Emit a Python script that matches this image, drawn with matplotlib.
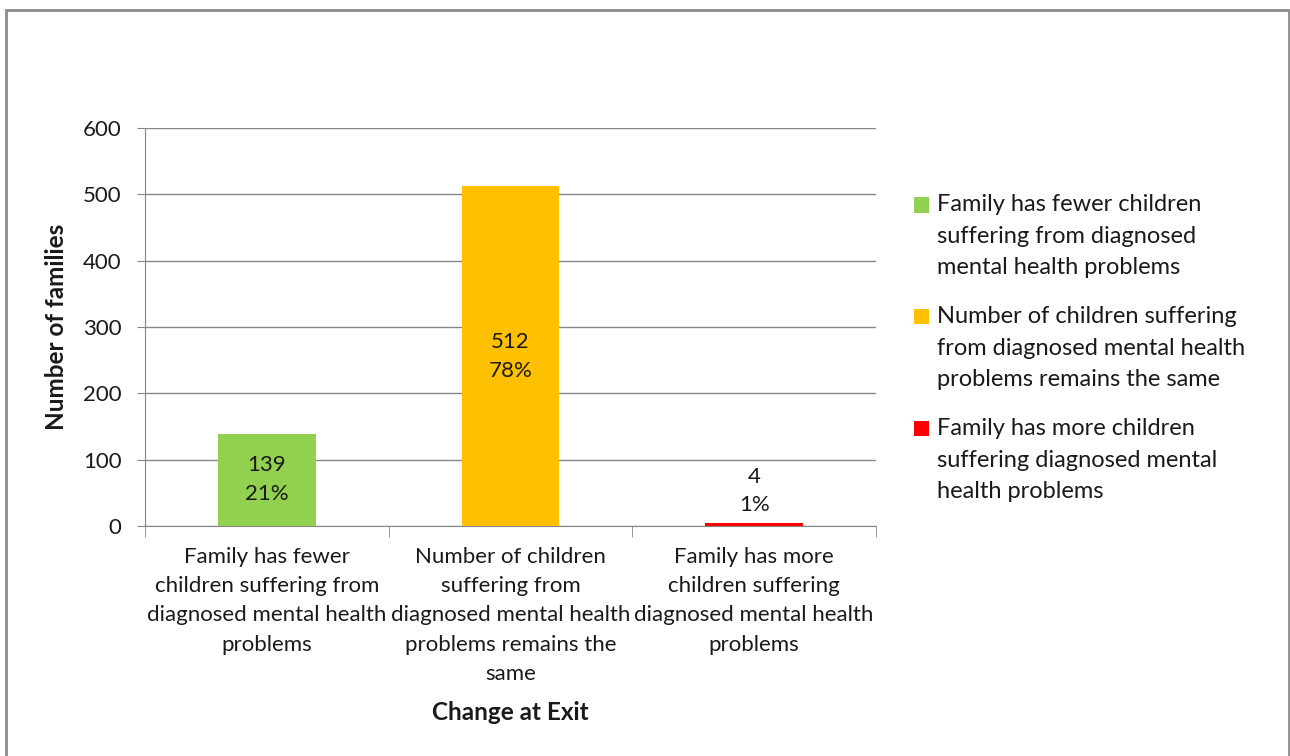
import matplotlib
matplotlib.use("Agg")
import matplotlib.pyplot as plt
from matplotlib.patches import Rectangle

# Data
categories = [
    "Family has fewer\nchildren suffering from\ndiagnosed mental health\nproblems",
    "Number of children\nsuffering from\ndiagnosed mental health\nproblems remains the\nsame",
    "Family has more\nchildren suffering\ndiagnosed mental health\nproblems",
]
legend_labels = [
    "Family has fewer children\nsuffering from diagnosed\nmental health problems",
    "Number of children suffering\nfrom diagnosed mental health\nproblems remains the same",
    "Family has more children\nsuffering diagnosed mental\nhealth problems",
]
values = [139, 512, 4]
percents = ["21%", "78%", "1%"]
colors = ["#92D050", "#FFC000", "#FF0000"]

plt.rcParams["font.family"] = ["Lato", "DejaVu Sans"]
grid_col = "#868686"
txt_col = "#1a1a1a"
fs = 16
W, H = 1290, 756

fig = plt.figure(figsize=(12.9, 7.56), dpi=100)
ax = fig.add_axes([145 / W, 1 - 526 / H, 731 / W, 398 / H])

x = list(range(len(values)))
ax.bar(x, values, width=0.4, color=colors, zorder=3)

for xi, v, p in zip(x, values, percents):
    if v > 60:
        ax.text(xi, v / 2, f"{v}\n{p}", ha="center", va="center",
                fontsize=fs, color=txt_col, linespacing=1.55, zorder=4)
    else:
        ax.text(xi, v + 12, f"{v}\n{p}", ha="center", va="bottom",
                fontsize=fs, color=txt_col, linespacing=1.55, zorder=4)

ax.set_xlim(-0.5, 2.5)
ax.set_ylim(0, 600)
ax.set_yticks(range(0, 601, 100))
ax.yaxis.grid(True, color=grid_col, linewidth=1, zorder=0)
ax.set_xticks(x)
ax.set_xticklabels(categories, fontsize=fs, color=txt_col, linespacing=1.58)
ax.set_xticks([-0.5, 0.5, 1.5, 2.5], minor=True)
ax.tick_params(axis="x", which="major", length=0, pad=15)
ax.tick_params(axis="x", which="minor", length=8, color=grid_col)
ax.tick_params(axis="y", length=6, color=grid_col, labelsize=fs,
               labelcolor=txt_col, pad=11)

for s in ["top", "right"]:
    ax.spines[s].set_visible(False)
for s in ["left", "bottom"]:
    ax.spines[s].set_color(grid_col)

ax.set_ylabel("Number of families", fontsize=17.5, fontweight="bold",
              color=txt_col, va="center")
ax.yaxis.set_label_coords((57 - 145) / 731, 0.5)
ax.set_xlabel("Change at Exit", fontsize=17.5, fontweight="bold",
              color=txt_col, va="center")
ax.xaxis.set_label_coords(0.5, (526 - 712) / 398)

# legend drawn by hand so the swatch sits on the first line of each entry
leg_y = [205, 317, 429]
for lab, c, ly in zip(legend_labels, colors, leg_y):
    fig.patches.append(Rectangle((914 / W, 1 - (ly + 7.5) / H), 15 / W, 15 / H,
                                 transform=fig.transFigure, facecolor=c,
                                 edgecolor="none"))
    fig.text(937 / W, 1 - (ly - 11) / H, lab, ha="left", va="top",
             fontsize=17, color=txt_col, linespacing=1.62)

fig.patches.append(Rectangle((6 / W, -0.02), 1283 / W, 1.02 - 10 / H,
                             transform=fig.transFigure, fill=False,
                             edgecolor="#8c8c8c", linewidth=2))

fig.savefig("out.png", dpi=100, facecolor="white")
